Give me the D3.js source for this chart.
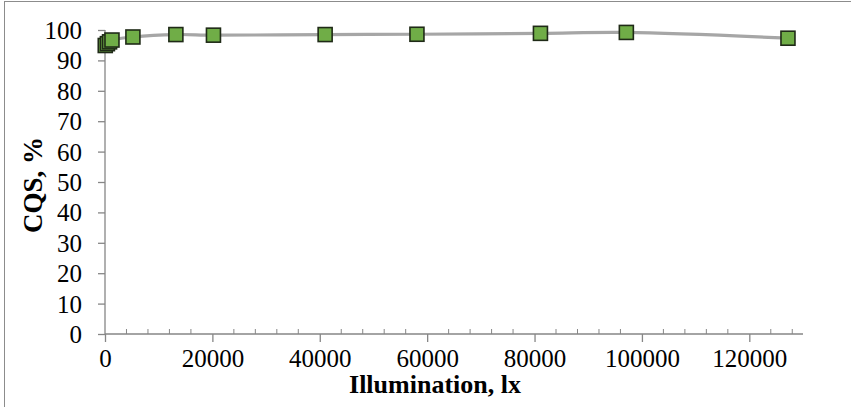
<!DOCTYPE html>
<html>
<head>
<meta charset="utf-8">
<script src="https://cdn.jsdelivr.net/npm/d3@7/dist/d3.min.js"></script>
<style>
  html, body { margin: 0; padding: 0; background: #fff; }
  svg { display: block; }
  svg text { font-family: "Liberation Serif", Tinos, "Times New Roman", Times, serif; }
</style>
</head>
<body>
<svg id="chart" width="851" height="407"></svg>
<script>
// Data
const illumination = [50, 450, 850, 1300, 5200, 13200, 20200, 41000, 58100, 81100, 97100, 127200];
const cqs = [94.9, 95.5, 96.1, 96.7, 97.7, 98.5, 98.3, 98.5, 98.6, 98.9, 99.2, 97.3];
const xTicks = [0, 20000, 40000, 60000, 80000, 100000, 120000];
const yTicks = [0, 10, 20, 30, 40, 50, 60, 70, 80, 90, 100];
const xTitle = "Illumination, lx";
const yTitle = "CQS, %";

const data = illumination.map((x, i) => ({ x, y: cqs[i] }));

const svg = d3.select("#chart");

// outer frame
svg.append("rect")
  .attr("x", 4.5).attr("y", 1.5)
  .attr("width", 900).attr("height", 500)
  .attr("fill", "none").attr("stroke", "#8c8c8c").attr("stroke-width", 1);

const x = d3.scaleLinear().domain([0, 130000]).range([105, 803]);
const y = d3.scaleLinear().domain([0, 100]).range([334, 30]);

const axisColor = "#868686";

// X axis: minor ticks inside (up), major ticks outside (down)
const xMinor = d3.range(0, 130001, 4000).filter(v => v % 20000 !== 0);
const gx = svg.append("g").attr("transform", `translate(0,${y(0)})`);
gx.append("line").attr("x1", x(0)).attr("x2", x(130000))
  .attr("y1", 0).attr("y2", 0).attr("stroke", axisColor).attr("stroke-width", 1.3);
gx.selectAll(".minor").data(xMinor).join("line")
  .attr("x1", d => x(d)).attr("x2", d => x(d))
  .attr("y1", 0).attr("y2", -5).attr("stroke", axisColor).attr("stroke-width", 1);
const xAxis = d3.axisBottom(x).tickValues(xTicks).tickSize(8).tickPadding(7).tickFormat(d3.format("d"));
const gxa = svg.append("g").attr("transform", `translate(0,${y(0)})`).call(xAxis);
gxa.attr("font-family", null);
gxa.select(".domain").remove();
gxa.selectAll(".tick line").attr("stroke", axisColor).attr("stroke-width", 1.3);
gxa.selectAll(".tick text").attr("font-size", 25).attr("fill", "#000");

// Y axis
const yAxis = d3.axisLeft(y).tickValues(yTicks).tickSize(7).tickPadding(16).tickFormat(d3.format("d"));
const gya = svg.append("g").attr("transform", `translate(${x(0)},0)`).call(yAxis);
gya.attr("font-family", null);
gya.select(".domain").attr("stroke", axisColor).attr("stroke-width", 1.3).attr("d", `M0,${y(0)}V${y(100)}`);
gya.selectAll(".tick line").attr("stroke", axisColor).attr("stroke-width", 1.3);
gya.selectAll(".tick text").attr("font-size", 25).attr("fill", "#000")
  .attr("dy", "0.34em");

// Line
const line = d3.line().x(d => x(d.x)).y(d => y(d.y)).curve(d3.curveCatmullRom.alpha(0.5));
svg.append("path").datum(data)
  .attr("d", line).attr("fill", "none")
  .attr("stroke", "#a6a6a6").attr("stroke-width", 3.2);

// Markers
const s = 14;
svg.selectAll(".pt").data(data).join("rect")
  .attr("x", d => x(d.x) - s / 2).attr("y", d => y(d.y) - s / 2)
  .attr("width", s).attr("height", s)
  .attr("fill", "#70ad47").attr("stroke", "#1f2a17").attr("stroke-width", 1.6);

// Titles
svg.append("text").attr("x", 435).attr("y", 393)
  .attr("text-anchor", "middle")
  .attr("font-weight", "bold").attr("font-size", 26).text(xTitle);

svg.append("text").attr("transform", `translate(42,185) rotate(-90)`)
  .attr("text-anchor", "middle")
  .attr("font-weight", "bold").attr("font-size", 27).text(yTitle);
</script>
</body>
</html>
